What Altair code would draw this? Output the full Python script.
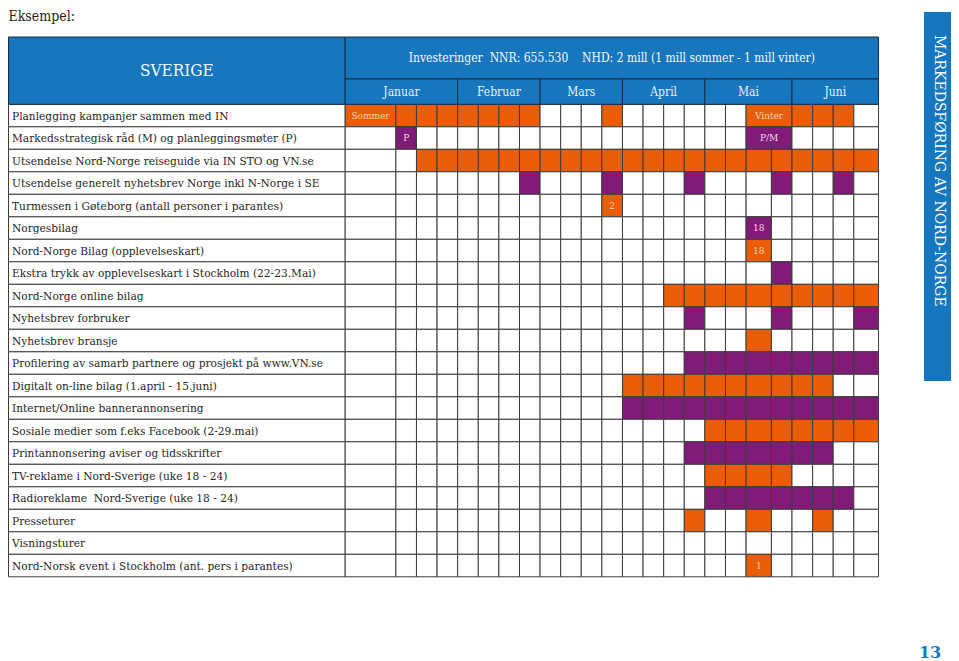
import altair as alt
import pandas as pd
import numpy as np

# ---------------- data ----------------
NB = "\u00a0"
page_label = "Eksempel:"
title_left = "SVERIGE"
title_right = ("Investeringer" + NB * 2 + "NNR: 655.530" + NB * 4
               + "NHD: 2 mill (1 mill sommer - 1 mill vinter)")
side_title = "MARKEDSFØRING AV NORD-NORGE"
page_number = "13"

activities = [
    "Planlegging kampanjer sammen med IN",
    "Markedsstrategisk råd (M) og planleggingsmøter (P)",
    "Utsendelse Nord-Norge reiseguide via IN STO og VN.se",
    "Utsendelse generelt nyhetsbrev Norge inkl N-Norge i SE",
    "Turmessen i Gøteborg (antall personer i parantes)",
    "Norgesbilag",
    "Nord-Norge Bilag (opplevelseskart)",
    "Ekstra trykk av opplevelseskart i Stockholm (22-23.Mai)",
    "Nord-Norge online bilag",
    "Nyhetsbrev forbruker",
    "Nyhetsbrev bransje",
    "Profilering av samarb partnere og prosjekt på www.VN.se",
    "Digitalt on-line bilag (1.april - 15.juni)",
    "Internet/Online bannerannonsering",
    "Sosiale medier som f.eks Facebook (2-29.mai)",
    "Printannonsering aviser og tidsskrifter",
    "TV-reklame i Nord-Sverige (uke 18 - 24)",
    "Radioreklame" + NB * 2 + "Nord-Sverige (uke 18 - 24)",
    "Presseturer",
    "Visningsturer",
    "Nord-Norsk event i Stockholm (ant. pers i parantes)",
]

months = ["Januar", "Februar", "Mars", "April", "Mai", "Juni"]
month_columns = [4, 4, 4, 4, 4, 4]

# one character per grid column: O = orange, P = purple, . = empty
schedule = [
    "OOOOOOOO...O......OOOOO.",
    ".P................PP....",
    "..OOOOOOOOOOOOOOOOOOOOOO",
    ".......P...P...P...P..P.",
    "...........O............",
    "..................P.....",
    "..................O.....",
    "...................P....",
    "..............OOOOOOOOOO",
    "...............P...P...P",
    "..................O.....",
    "...............PPPPPPPPP",
    "............OOOOOOOOOO..",
    "............PPPPPPPPPPPP",
    "................OOOOOOOO",
    "...............PPPPPPP..",
    "................OOOO....",
    "................PPPPPPP.",
    "...............O..O..O..",
    "........................",
    "..................O.....",
]

# merged cells: (row, first column, number of columns)
merged = [(0, 18, 2), (1, 18, 2)]

# cell texts: (row, column, text)
notes = [
    (0, 0, "Sommer"), (0, 18, "Vinter"), (1, 1, "P"), (1, 18, "P/M"),
    (4, 11, "2"), (5, 18, "18"), (6, 18, "18"), (20, 18, "1"),
]

# ---------------- layout ----------------
W, H = 943, 653
OX, OY = 8, 8
U, V = 20.6, 22.5            # px per grid column unit / per row
GRID_X, GRID_Y = 345.2, 104.3
col_widths = [2.46] + [1.0] * 17 + [1.23] + [1.0] * 4 + [1.2]
edges = np.concatenate([[0.0], np.cumsum(col_widths)])
NROW = len(activities)

def ux(px):
    return (px - GRID_X) / U

def vy(py):
    return (py - GRID_Y) / V

xs = alt.Scale(domain=[ux(OX), ux(OX + W)], nice=False, zero=False)
ys = alt.Scale(domain=[vy(OY), vy(OY + H)], nice=False, zero=False, reverse=True)

ORANGE = "#E85D06"
PURPLE = "#801B78"
BLUE = "#1676BE"
LINE = "#3c3c3c"
HLINE = "#1c2a44"
FONT = "DejaVu Serif Condensed, DejaVu Serif, serif"

TABLE_L = ux(8.5)
TOP_Y = vy(37)
MONTH_Y = vy(79)

def X(f):
    return alt.X(f, type="quantitative", scale=xs, axis=None)

def Y(f):
    return alt.Y(f, type="quantitative", scale=ys, axis=None)

# ---------------- tables ----------------
merge_map = {(r, c): n for r, c, n in merged}
cells = []
for r, pat in enumerate(schedule):
    c = 0
    while c < len(pat):
        n = merge_map.get((r, c), 1)
        cells.append(dict(x=edges[c], x2=edges[c + n], y=r, y2=r + 1, kind=pat[c]))
        c += n
cells = pd.DataFrame(cells)

label_cells = pd.DataFrame(dict(x=[TABLE_L] * NROW, x2=[0.0] * NROW,
                                y=list(range(NROW)), y2=[r + 1 for r in range(NROW)],
                                label=activities))
label_cells["tx"] = ux(12)
label_cells["ty"] = label_cells["y"] + 0.5

m_start = np.concatenate([[0], np.cumsum(month_columns)])
month_df = pd.DataFrame(dict(
    x=[edges[m_start[i]] for i in range(len(months))],
    x2=[edges[m_start[i + 1]] for i in range(len(months))],
    y=[MONTH_Y] * len(months), y2=[0.0] * len(months), label=months))
month_df["tx"] = (month_df["x"] + month_df["x2"]) / 2
month_df["ty"] = (month_df["y"] + month_df["y2"]) / 2

head_df = pd.DataFrame(dict(
    x=[TABLE_L, 0.0], x2=[0.0, edges[-1]],
    y=[TOP_Y, TOP_Y], y2=[0.0, MONTH_Y], label=[title_left, title_right]))
head_df["tx"] = (head_df["x"] + head_df["x2"]) / 2
head_df["ty"] = (head_df["y"] + head_df["y2"]) / 2

note_rows = []
for r, c, t in notes:
    n = merge_map.get((r, c), 1)
    k = schedule[r][c]
    note_rows.append(dict(tx=(edges[c] + edges[c + n]) / 2, ty=r + 0.5, label=t,
                          tc="#FAD3B6" if k == "O" else "#F1DCEC"))
note_df = pd.DataFrame(note_rows)

side_df = pd.DataFrame(dict(x=[ux(924)], x2=[ux(OX + W)], y=[vy(12)], y2=[vy(381)]))
side_txt = pd.DataFrame(dict(tx=[ux(939)], ty=[vy(35)], label=[side_title]))
misc_txt = pd.DataFrame(dict(tx=[ux(OX + 0.5)], ty=[vy(21)], label=[page_label]))
num_txt = pd.DataFrame(dict(tx=[ux(930)], ty=[vy(658)], label=[page_number]))

# ---------------- layers ----------------
lab_rect = alt.Chart(label_cells).mark_rect(fill="white", stroke=LINE, strokeWidth=1).encode(
    x=X("x"), x2="x2", y=Y("y"), y2="y2")

grid_rect = alt.Chart(cells).mark_rect(stroke=LINE, strokeWidth=1).encode(
    x=X("x"), x2="x2", y=Y("y"), y2="y2",
    fill=alt.Fill("kind:N", scale=alt.Scale(domain=[".", "O", "P"],
                                            range=["#ffffff", ORANGE, PURPLE]), legend=None))

head_rect = alt.Chart(pd.concat([head_df, month_df])).mark_rect(
    fill=BLUE, stroke=HLINE, strokeWidth=1).encode(x=X("x"), x2="x2", y=Y("y"), y2="y2")

side_rect = alt.Chart(side_df).mark_rect(fill=BLUE).encode(
    x=X("x"), x2="x2", y=Y("y"), y2="y2")

lab_text = alt.Chart(label_cells).mark_text(
    align="left", baseline="middle", font=FONT, fontSize=11.8, color="#262626").encode(
    x=X("tx"), y=Y("ty"), text="label:N")

head_text = alt.Chart(head_df).mark_text(
    align="center", baseline="middle", font=FONT, color="#F4F9FD").encode(
    x=X("tx"), y=Y("ty"), text="label:N",
    size=alt.Size("label:N", scale=alt.Scale(domain=[title_left, title_right], range=[17, 12]),
                  legend=None))

month_text = alt.Chart(month_df).mark_text(
    align="center", baseline="middle", font=FONT, fontSize=12, color="#E8F2FA").encode(
    x=X("tx"), y=Y("ty"), text="label:N")

note_text = alt.Chart(note_df).mark_text(
    align="center", baseline="middle", font=FONT, fontSize=10).encode(
    x=X("tx"), y=Y("ty"), text="label:N", color=alt.Color("tc:N", scale=None))

side_text = alt.Chart(side_txt).mark_text(
    align="left", baseline="middle", angle=90, font="DejaVu Serif, serif", fontSize=14,
    color="white").encode(x=X("tx"), y=Y("ty"), text="label:N")

misc_text = alt.Chart(misc_txt).mark_text(
    align="left", baseline="alphabetic", font=FONT, fontSize=14, color="#1e1e1e").encode(
    x=X("tx"), y=Y("ty"), text="label:N")

num_text = alt.Chart(num_txt).mark_text(
    align="center", baseline="alphabetic", font="DejaVu Serif, serif", fontSize=16,
    fontWeight="bold", color=BLUE).encode(x=X("tx"), y=Y("ty"), text="label:N")

chart = alt.layer(
    lab_rect, grid_rect, head_rect, side_rect,
    lab_text, head_text, month_text, note_text, side_text, misc_text, num_text,
).properties(
    width=W, height=H, padding=0, autosize=alt.AutoSizeParams(type="none"),
    background="white",
).configure_view(stroke=None)

chart.save("out.html", embed_options={"renderer": "svg", "actions": False})
